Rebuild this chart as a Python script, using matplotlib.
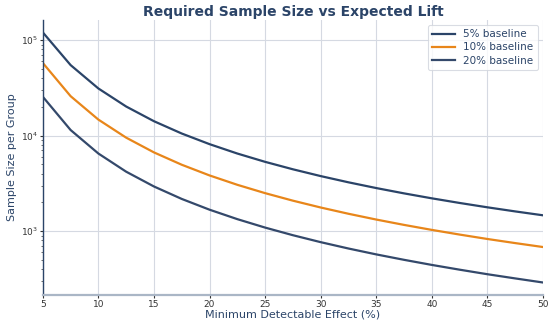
import matplotlib
matplotlib.use("Agg")
import matplotlib.pyplot as plt

mde = [5, 7.5, 10, 12.5, 15, 17.5, 20, 22.5, 25, 27.5, 30, 32.5, 35, 37.5, 40, 42.5, 45, 47.5, 50]
base5 = [120600, 54840, 31200, 20190, 14170, 10530, 8150, 6500, 5320, 4445, 3773, 3247, 2827, 2487, 2207, 1974, 1777, 1610, 1466]
base10 = [57700, 25920, 14730, 9530, 6680, 4960, 3834, 3058, 2501, 2086, 1769, 1521, 1323, 1163, 1031, 921, 828, 750, 682]
base20 = [25550, 11460, 6500, 4194, 2937, 2175, 1678, 1336, 1090, 907, 767, 658, 571, 501, 443, 395, 354, 320, 290]
labels = ["5% baseline", "10% baseline", "20% baseline"]

navy = "#2b4468"
orange = "#e8861a"
text_col = "#2b4468"

fig = plt.figure(figsize=(5.49, 3.21), dpi=100)
ax = fig.add_axes([0.078, 0.081, 0.911, 0.857])

for y, c, lab in zip([base5, base10, base20], [navy, orange, "#34496b"], labels):
    ax.plot(mde, y, color=c, lw=1.6, label=lab)

ax.set_yscale("log")
ax.set_xlim(5, 50)
ax.set_xticks([5, 10, 15, 20, 25, 30, 35, 40, 45, 50])
ax.grid(True, which="major", color="#d5d9e2", lw=0.8)
ax.set_axisbelow(True)
for s in ["top", "right"]:
    ax.spines[s].set_visible(False)
ax.spines["left"].set_color(navy)
ax.spines["left"].set_linewidth(1.0)
ax.spines["bottom"].set_color("#aab6c6")
ax.spines["bottom"].set_linewidth(1.6)
ax.tick_params(axis="both", which="major", labelsize=6.5, colors="#333333", length=2, width=0.8, pad=1.5)
ax.tick_params(axis="both", which="minor", length=1.5, width=0.6, colors="#555555")

ax.set_xlabel("Minimum Detectable Effect (%)", fontsize=8, color=text_col, labelpad=0.5)
ax.set_ylabel("Sample Size per Group", fontsize=8, color=text_col, labelpad=3)
ax.set_title("Required Sample Size vs Expected Lift", fontsize=10, fontweight="bold", color=text_col, pad=3)

leg = ax.legend(loc="upper right", fontsize=7.5, frameon=True, handlelength=2.2, borderpad=0.4, labelspacing=0.3)
leg.get_frame().set_edgecolor("#d0d4dc")
leg.get_frame().set_linewidth(0.8)
for t in leg.get_texts():
    t.set_color(text_col)

fig.savefig("out.png", dpi=100)
